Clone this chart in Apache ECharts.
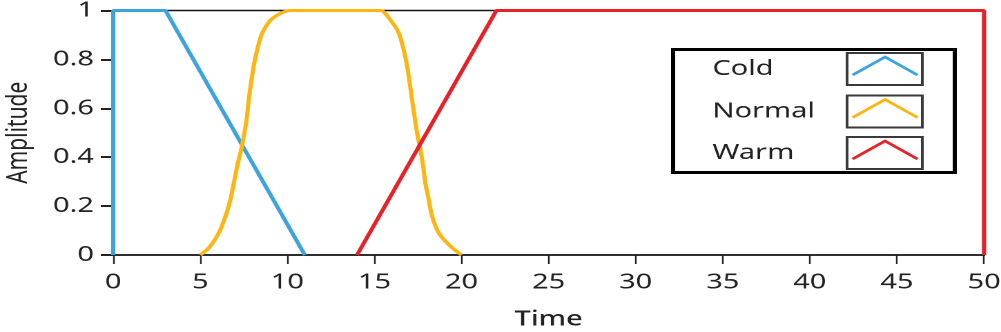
<!DOCTYPE html>
<html>
<head>
<meta charset="utf-8">
<script src="https://cdn.jsdelivr.net/npm/echarts@6/dist/echarts.min.js"></script>
<style>
html,body{margin:0;padding:0;background:#fff;overflow:hidden;}
#wrap{width:1001px;height:332px;overflow:hidden;position:relative;}
#chart{width:725px;height:332px;transform:scaleX(1.38069);transform-origin:0 0;}
</style>
</head>
<body>
<div id="wrap"><div id="chart"></div></div>
<script>
// ---- data ----
const seriesNames = ['Cold', 'Normal', 'Warm'];
const seriesColors = ['#3ba3df', '#fdb50f', '#e8202a'];

const coldT = [0, 0, 3, 11];
const coldV = [0, 1, 1, 0];

const normalT = [5, 5.5, 6.05, 6.44, 6.72, 6.92, 7.11, 7.34, 7.53, 7.68, 7.78, 7.91, 8.06, 8.26, 8.55, 9.02, 9.6, 10.17,
                 15.34, 15.92, 16.4, 16.68, 16.88, 17.03, 17.16, 17.3, 17.45, 17.64, 17.8, 17.93, 18.12, 18.31, 18.7, 19.37, 20.0];
const normalV = [0, 0.03, 0.089, 0.157, 0.225, 0.293, 0.361, 0.429, 0.498, 0.566, 0.634, 0.702, 0.77, 0.838, 0.907, 0.96, 0.988, 1,
                 1, 0.96, 0.907, 0.838, 0.77, 0.70, 0.634, 0.566, 0.498, 0.43, 0.36, 0.29, 0.225, 0.157, 0.089, 0.035, 0];

const warmT = [14, 22, 50, 50];
const warmV = [0, 1, 1, 0];

const xName = 'Time';
const yName = 'Amplitude';

const pairs = (t, v) => t.map((x, i) => [x, v[i]]);
const seriesData = [pairs(coldT, coldV), pairs(normalT, normalV), pairs(warmT, warmV)];

const FONT = '"Noto Sans", "Open Sans", sans-serif';
const TXT = '#222';

// legend block (drawn as graphics, inner coordinates)
const lgX = 487.5, lgY = 49.5, lgW = 204, lgH = 123;
const rowCY = [69, 111.5, 153];
const boxX = 613.5, boxW = 54.5, boxH = 32;
const legendGraphics = [{
  type: 'rect', shape: {x: lgX, y: lgY, width: lgW, height: lgH},
  style: {fill: '#fff', stroke: '#000', lineWidth: 3}, z: 100
}];
seriesNames.forEach((name, i) => {
  const cy = rowCY[i];
  legendGraphics.push({
    type: 'text', x: 516, y: cy, z: 101,
    style: {text: name, font: '21px ' + FONT, fill: TXT, textVerticalAlign: 'middle', textAlign: 'left'}
  });
  legendGraphics.push({
    type: 'rect', shape: {x: boxX, y: cy - boxH / 2, width: boxW, height: boxH}, z: 101,
    style: {fill: '#fff', stroke: '#3a3a3a', lineWidth: 2}
  });
  legendGraphics.push({
    type: 'polyline', z: 102,
    shape: {points: [[boxX + 4, cy + 6], [boxX + 27.5, cy - 12], [boxX + 51, cy + 6]]},
    style: {stroke: seriesColors[i], lineWidth: 2.5, fill: 'none'}
  });
});

const chart = echarts.init(document.getElementById('chart'), null, {renderer: 'canvas', devicePixelRatio: 2});
chart.setOption({
  animation: false,
  backgroundColor: '#fff',
  grid: {left: 82, right: 12.3, top: 10.5, bottom: 77, show: true, borderColor: '#111', borderWidth: 1.5,
         backgroundColor: '#fff', containLabel: false, outerBoundsMode: 'none'},
  xAxis: {
    type: 'value', min: 0, max: 50, interval: 5,
    name: xName, nameLocation: 'middle', nameGap: 54,
    nameTextStyle: {fontFamily: FONT, fontSize: 21, color: TXT, fontWeight: 500},
    axisLine: {onZero: false, lineStyle: {color: '#111', width: 1.5}},
    axisTick: {show: true, length: 9, lineStyle: {color: '#222', width: 1.2}},
    axisLabel: {fontFamily: FONT, fontSize: 21, color: TXT, margin: 17},
    splitLine: {show: false}
  },
  yAxis: {
    type: 'value', min: 0, max: 1, interval: 0.2,
    name: yName, nameLocation: 'middle', nameGap: 58, nameRotate: 90,
    nameTextStyle: {fontFamily: FONT, fontSize: 21, color: TXT},
    axisLine: {onZero: false, lineStyle: {color: '#111', width: 1.5}},
    axisTick: {show: true, length: 9, lineStyle: {color: '#222', width: 2}},
    axisLabel: {fontFamily: FONT, fontSize: 21, color: TXT, margin: 14},
    splitLine: {show: false}
  },
  series: seriesNames.map((name, i) => ({
    name: name, type: 'line', data: seriesData[i],
    showSymbol: false, symbol: 'none', smooth: i === 1 ? 0.25 : false,
    lineStyle: {color: seriesColors[i], width: 3},
    clip: true, z: 3
  })),
  graphic: legendGraphics
});
</script>
</body>
</html>
